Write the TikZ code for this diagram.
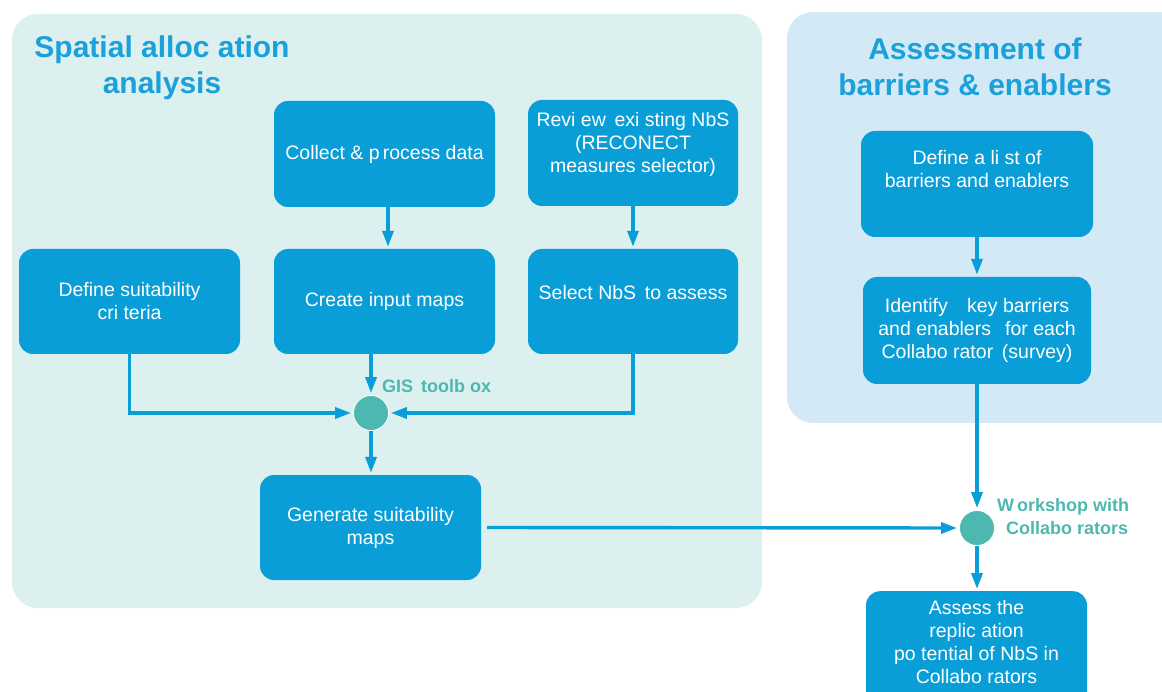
\documentclass[tikz,border=0pt]{standalone}
\usepackage{fontspec}
\setmainfont{Liberation Sans}
\usetikzlibrary{arrows.meta}
\definecolor{panelA}{HTML}{DBF0EF}
\definecolor{panelB}{HTML}{D3EAF6}
\definecolor{boxblue}{HTML}{0A9ED8}
\definecolor{titleblue}{HTML}{1AA0DA}
\definecolor{hubteal}{HTML}{4DB8B0}
\tikzset{
  panel/.style={rounded corners=26pt, draw=none},
  stepbox/.style={fill=boxblue, draw=none, rounded corners=14pt, text=white,
    align=center, inner sep=0pt, font=\fontsize{19.5}{23}\selectfont},
  hub/.style={circle, fill=hubteal, draw=white, line width=0.8pt, minimum size=35pt, inner sep=0pt},
  hubtext/.style={text=hubteal, font=\bfseries\fontsize{18}{23}\selectfont, align=center, inner sep=0pt},
  paneltitle/.style={text=titleblue, font=\bfseries\fontsize{30}{36}\selectfont, align=center, inner sep=0pt},
  flow/.style={draw=boxblue, line width=3.4pt, shorten >=2pt, -{Triangle[length=16pt,width=11pt]}},
}
\begin{document}
\begin{tikzpicture}[x=1pt,y=-1pt]
\useasboundingbox (0,0) rectangle (1162,692);
\clip (0,0) rectangle (1162,692);

% panels
\fill[panelA, panel] (12,14) rectangle (762,608);
\fill[panelB, panel] (787,12) rectangle (1190,423);

% panel titles
\node[paneltitle] (t1) at (162,68) {Spatial alloc ation\\analysis};
\node[paneltitle] (t2) at (975,67) {Assessment of\\barriers \& enablers};

% left process boxes
\node[stepbox, minimum width=221pt, minimum height=106pt] (collect) at (384.5,154) {Collect \& p\,rocess data};
\node[stepbox, minimum width=210pt, minimum height=106pt] (review) at (633,153) {Revi ew\, exi sting NbS\\(RECONECT\\measures selector)\\[-2pt]};
\node[stepbox, minimum width=221pt, minimum height=105pt] (criteria) at (129.5,301.5) {Define suitability\\cri teria};
\node[stepbox, minimum width=221pt, minimum height=105pt] (inputs) at (384.5,301.5) {Create input maps};
\node[stepbox, minimum width=210pt, minimum height=105pt] (select) at (633,301.5) {Select NbS\, to assess\\[-4pt]};
\node[stepbox, minimum width=221pt, minimum height=105pt] (generate) at (370.5,527.5) {Generate suitability\\maps};

% right process boxes
\node[stepbox, minimum width=232pt, minimum height=106pt] (list) at (977,184) {Define a li st of\\barriers and enablers\\[8pt]};
\node[stepbox, minimum width=228pt, minimum height=107pt] (identify) at (977,330.5) {Identify\;\;\, key barriers\\and enablers\;\, for each\\Collabo rator\, (survey)};
\node[stepbox, minimum width=221pt, minimum height=120pt, anchor=north] (assess) at (976.5,591) {};
\node[text=white, align=center, inner sep=0pt, anchor=north, font=\fontsize{19.5}{23}\selectfont] (assesstext) at (976.5,600) {Assess the\\replic ation\\po tential of NbS in\\Collabo rators};

% hubs
\node[hub] (gis) at (371,413) {};
\node[hubtext, anchor=west] (gislabel) at (382,386) {GIS\, toolb ox};
\node[hub] (workshop) at (977,528) {};
\node[hubtext, anchor=west] (worklabel) at (997,516.5) {W\,orkshop with\\\hspace*{8pt}Collabo rators};

% connectors
\draw[flow] (collect.south -| inputs) ++(3.5,0) coordinate (c1) -- (c1 |- inputs.north);
\draw[flow] (review.south) -- (select.north);
\draw[flow] (inputs.south -| gis) -- (gis.north);
\draw[flow] (criteria.south) |- (gis.west);
\draw[flow] (select.south) |- (gis.east);
\draw[flow] (gis.south) -- (gis |- generate.north);
\draw[flow] (list.south) -- (identify.north);
\draw[flow] (identify.south) -- (workshop.north);
\draw[flow, shorten <=6pt] (generate.east) -- (workshop.west);
\draw[flow] (workshop.south) -- (workshop |- assess.north);
\end{tikzpicture}
\end{document}
